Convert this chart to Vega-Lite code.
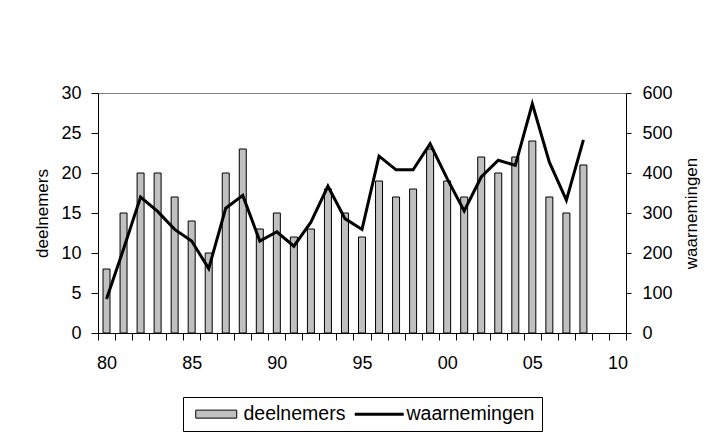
{
  "$schema": "https://vega.github.io/schema/vega-lite/v6.json",
  "autosize": "none",
  "width": 528,
  "height": 240,
  "padding": {"left": 98, "top": 93, "right": 98, "bottom": 102},
  "background": "white",
  "data": {
    "values": [
      {"year": 1980, "deelnemers": 8, "waarnemingen": 85},
      {"year": 1981, "deelnemers": 15, "waarnemingen": 210},
      {"year": 1982, "deelnemers": 20, "waarnemingen": 340},
      {"year": 1983, "deelnemers": 20, "waarnemingen": 304},
      {"year": 1984, "deelnemers": 17, "waarnemingen": 259},
      {"year": 1985, "deelnemers": 14, "waarnemingen": 230},
      {"year": 1986, "deelnemers": 10, "waarnemingen": 161},
      {"year": 1987, "deelnemers": 20, "waarnemingen": 312},
      {"year": 1988, "deelnemers": 23, "waarnemingen": 344},
      {"year": 1989, "deelnemers": 13, "waarnemingen": 230},
      {"year": 1990, "deelnemers": 15, "waarnemingen": 253},
      {"year": 1991, "deelnemers": 12, "waarnemingen": 217},
      {"year": 1992, "deelnemers": 13, "waarnemingen": 277},
      {"year": 1993, "deelnemers": 18, "waarnemingen": 367},
      {"year": 1994, "deelnemers": 15, "waarnemingen": 286},
      {"year": 1995, "deelnemers": 12, "waarnemingen": 259},
      {"year": 1996, "deelnemers": 19, "waarnemingen": 442},
      {"year": 1997, "deelnemers": 17, "waarnemingen": 408},
      {"year": 1998, "deelnemers": 18, "waarnemingen": 408},
      {"year": 1999, "deelnemers": 23, "waarnemingen": 473},
      {"year": 2000, "deelnemers": 19, "waarnemingen": 386},
      {"year": 2001, "deelnemers": 17, "waarnemingen": 305},
      {"year": 2002, "deelnemers": 22, "waarnemingen": 390},
      {"year": 2003, "deelnemers": 20, "waarnemingen": 432},
      {"year": 2004, "deelnemers": 22, "waarnemingen": 419},
      {"year": 2005, "deelnemers": 24, "waarnemingen": 573},
      {"year": 2006, "deelnemers": 17, "waarnemingen": 427},
      {"year": 2007, "deelnemers": 15, "waarnemingen": 332},
      {"year": 2008, "deelnemers": 21, "waarnemingen": 483}
    ]
  },
  "encoding": {
    "x": {
      "field": "year",
      "type": "ordinal",
      "scale": {
        "domain": [1980, 1981, 1982, 1983, 1984, 1985, 1986, 1987, 1988, 1989, 1990, 1991, 1992, 1993, 1994, 1995, 1996, 1997, 1998, 1999, 2000, 2001, 2002, 2003, 2004, 2005, 2006, 2007, 2008, 2009, 2010],
        "paddingInner": 0,
        "paddingOuter": 0
      },
      "axis": {
        "title": null,
        "labelAngle": 0,
        "tickBand": "extent",
        "tickSize": 7,
        "labelPadding": 14,
        "labelFontSize": 18,
        "labelOverlap": false,
        "labelExpr": "datum.value % 5 === 0 ? slice(toString(datum.value), 2) : ''"
      }
    }
  },
  "layer": [
    {
      "mark": {"type": "bar", "width": {"band": 0.41}, "fill": "#c0c0c0", "strokeWidth": 1},
      "encoding": {
        "y": {
          "field": "deelnemers",
          "type": "quantitative",
          "scale": {"domain": [0, 30], "nice": false},
          "axis": {
            "orient": "left",
            "title": "deelnemers",
            "values": [0, 5, 10, 15, 20, 25, 30],
            "grid": false,
            "tickSize": 7,
            "labelPadding": 10,
            "labelFontSize": 18,
            "titleFontSize": 17,
            "titlePadding": 9
          }
        },
        "stroke": {
          "datum": "deelnemers",
          "type": "nominal",
          "scale": {"domain": ["deelnemers", "waarnemingen"], "range": ["#000000", "#000000"]},
          "legend": {
            "orient": "none",
            "legendX": 85,
            "legendY": 304,
            "direction": "horizontal",
            "title": null,
            "strokeColor": "black",
            "fillColor": "white",
            "padding": 7,
            "labelFontSize": 19.5,
            "labelColor": "black",
            "symbolSize": 256,
            "symbolType": "M-2.56,-0.5H2.56V0.5H-2.56Z",
            "symbolStrokeColor": "black",
            "symbolStrokeWidth": 1,
            "symbolOffset": 16.5,
            "labelOffset": 17.5,
            "columnPadding": 2,
            "encode": {
              "symbols": {
                "update": {
                  "shape": {"signal": "datum.value === 'deelnemers' ? 'M-2.56,-0.5H2.56V0.5H-2.56Z' : 'M-3.06,0H3.06'"},
                  "fill": {"signal": "datum.value === 'deelnemers' ? '#c0c0c0' : 'transparent'"},
                  "stroke": {"value": "black"},
                  "strokeWidth": {"signal": "datum.value === 'deelnemers' ? 1 : 3"},
                  "opacity": {"value": 1}
                }
              }
            }
          }
        }
      }
    },
    {
      "mark": {"type": "line", "strokeWidth": 3, "strokeJoin": "miter"},
      "encoding": {
        "y": {
          "field": "waarnemingen",
          "type": "quantitative",
          "scale": {"domain": [0, 600], "nice": false},
          "axis": {
            "orient": "right",
            "title": "waarnemingen",
            "values": [0, 100, 200, 300, 400, 500, 600],
            "grid": false,
            "tickSize": 5,
            "labelPadding": 11,
            "labelFontSize": 18,
            "titleFontSize": 17,
            "titlePadding": 28,
            "titleAngle": -90
          }
        },
        "stroke": {
          "datum": "waarnemingen",
          "type": "nominal",
          "legend": {
            "orient": "none",
            "legendX": 85,
            "legendY": 304,
            "direction": "horizontal",
            "title": null,
            "strokeColor": "black",
            "fillColor": "white",
            "padding": 7,
            "labelFontSize": 19.5,
            "labelColor": "black",
            "symbolSize": 256,
            "symbolType": "M-2.56,-0.5H2.56V0.5H-2.56Z",
            "symbolStrokeColor": "black",
            "symbolStrokeWidth": 1,
            "symbolOffset": 16.5,
            "labelOffset": 17.5,
            "columnPadding": 2,
            "encode": {
              "symbols": {
                "update": {
                  "shape": {"signal": "datum.value === 'deelnemers' ? 'M-2.56,-0.5H2.56V0.5H-2.56Z' : 'M-3.06,0H3.06'"},
                  "fill": {"signal": "datum.value === 'deelnemers' ? '#c0c0c0' : 'transparent'"},
                  "stroke": {"value": "black"},
                  "strokeWidth": {"signal": "datum.value === 'deelnemers' ? 1 : 3"},
                  "opacity": {"value": 1}
                }
              }
            }
          }
        }
      }
    }
  ],
  "resolve": {"scale": {"y": "independent"}},
  "config": {
    "font": "Liberation Sans",
    "view": {"stroke": "#808080", "strokeWidth": 1},
    "axis": {
      "labelFont": "Liberation Sans",
      "titleFont": "Liberation Sans",
      "labelColor": "black",
      "titleColor": "black",
      "domainColor": "black",
      "tickColor": "black",
      "titleFontWeight": "normal",
      "domainWidth": 1,
      "tickWidth": 1
    },
    "legend": {"labelFont": "Liberation Sans"}
  }
}
